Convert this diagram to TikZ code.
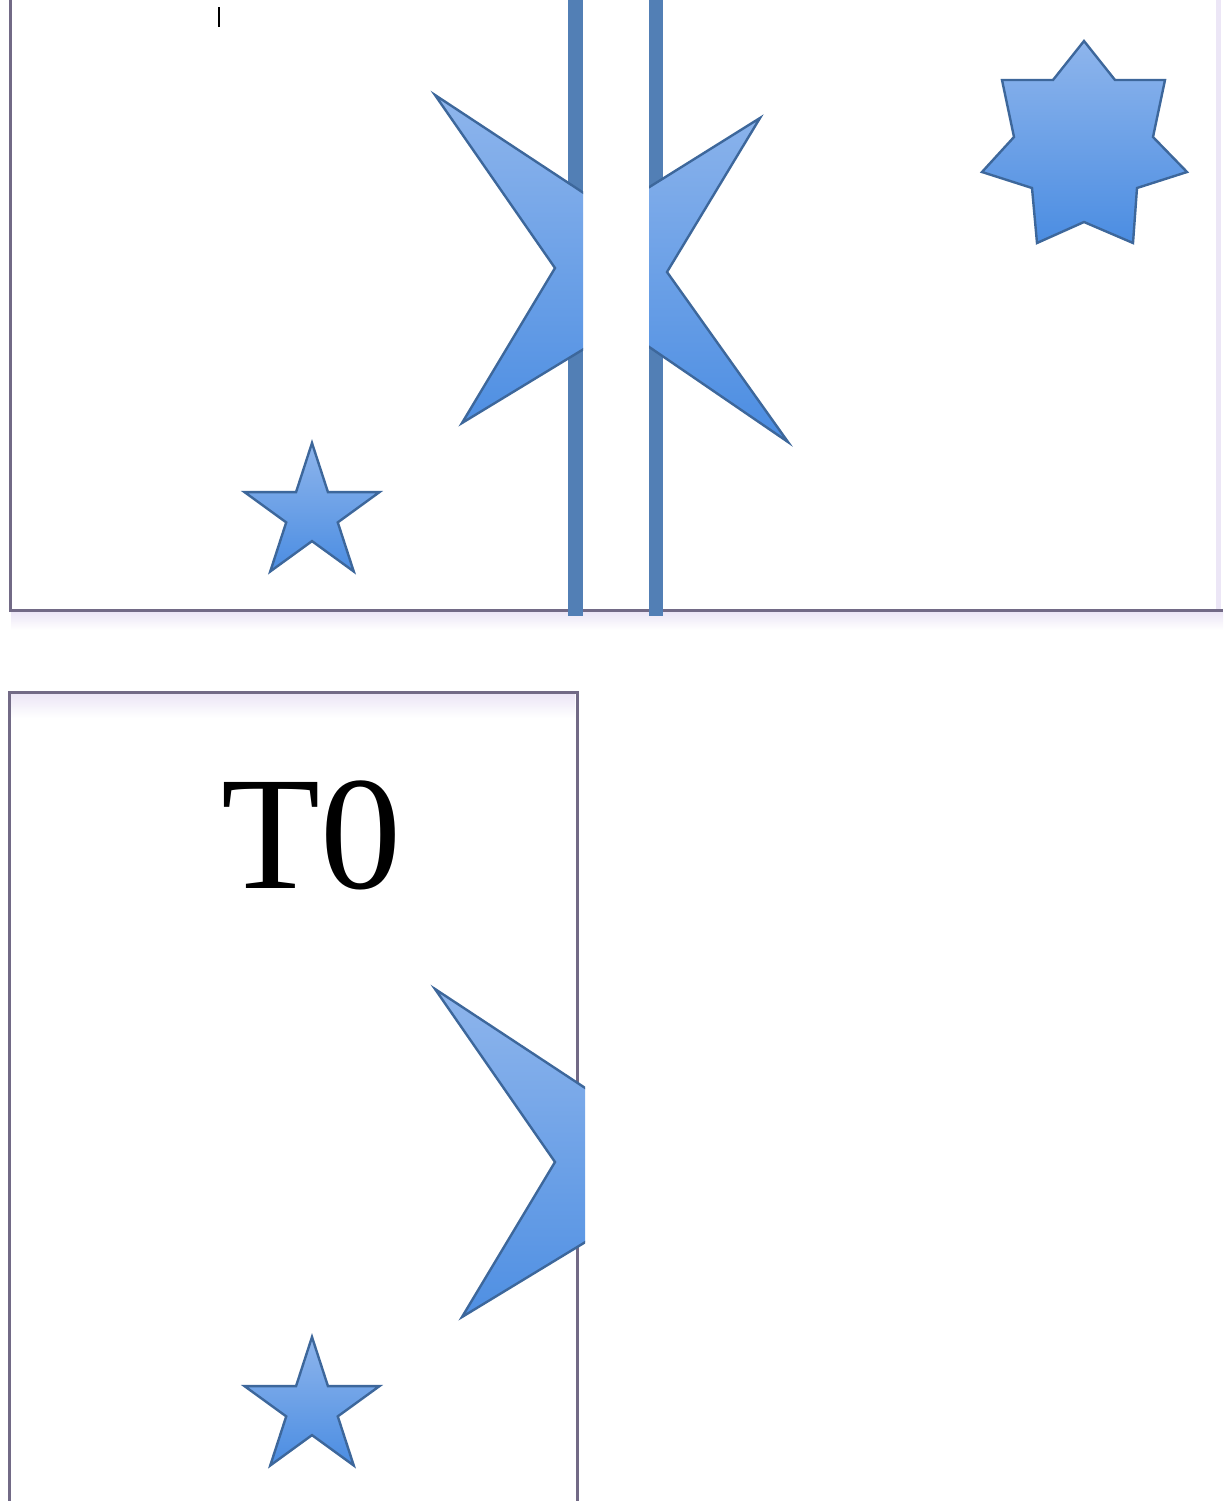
\documentclass[tikz,border=0pt]{standalone}
\usepackage{fontspec}
\setmainfont{Liberation Serif}
\definecolor{framec}{HTML}{726A86}
\definecolor{lav}{HTML}{ECE6F6}
\definecolor{barc}{HTML}{527FB5}
\definecolor{starline}{HTML}{3D679B}
\definecolor{startop}{HTML}{8EB5EC}
\definecolor{starbot}{HTML}{4B8DE2}
\tikzset{
  frameline/.style={draw=framec, line width=1.5pt},
  starshape/.style={draw=starline, line width=1.2pt, line join=miter, top color=startop, bottom color=starbot},
  barshape/.style={fill=barc},
}
\begin{document}
\begin{tikzpicture}[x=0.5pt,y=-0.5pt]
\useasboundingbox (0,0) rectangle (1223,1501);
\fill[white] (0,0) rectangle (1223,1501);
% soft lavender bands
\shade[top color=lav, bottom color=white] (11,612) rectangle (1223,630);
\shade[top color=lav, bottom color=white] (11,694) rectangle (575,718);
\fill[lav] (1216,0) rectangle (1221,610);
% frames
\draw[frameline] (10,0) -- (10,610) -- (1223,610);
\draw[frameline] (9,1501) -- (9,692) -- (577,692) -- (577,1501);
% bars
\fill[barshape] (568,0) rectangle (583,616);
\fill[barshape] (649,0) rectangle (663,616);
% cursor tick
\draw[black, line width=1pt] (219,7) -- (219,27);
% big four-point star (top), split
\begin{scope}
  \clip (0,0) rectangle (583,640);
  \path[starshape] (435,95) -- (611,211) -- (760,118) -- (667,272) -- (788,442) -- (620,327) -- (462,423) -- (555,268) -- cycle;
\end{scope}
\begin{scope}
  \clip (649,0) rectangle (1223,640);
  \path[starshape] (435,95) -- (611,211) -- (760,118) -- (667,272) -- (788,442) -- (620,327) -- (462,423) -- (555,268) -- cycle;
\end{scope}
% big four-point star (bottom), clipped
\begin{scope}
  \clip (0,650) rectangle (585,1501);
  \begin{scope}[yshift=-447pt]
  \path[starshape] (435,95) -- (611,211) -- (760,118) -- (667,272) -- (788,442) -- (620,327) -- (462,423) -- (555,268) -- cycle;
  \end{scope}
\end{scope}
% small five-point stars
\begin{scope}[shift={(312,514)}]
  \path[starshape] (0,-71)
    \foreach \i in {1,...,9} { -- ({(mod(\i,2)==0 ? 71 : 27.1)*sin(36*\i)}, {-(mod(\i,2)==0 ? 71 : 27.1)*cos(36*\i)}) } -- cycle;
\end{scope}
\begin{scope}[shift={(312,1408)}]
  \path[starshape] (0,-71)
    \foreach \i in {1,...,9} { -- ({(mod(\i,2)==0 ? 71 : 27.1)*sin(36*\i)}, {-(mod(\i,2)==0 ? 71 : 27.1)*cos(36*\i)}) } -- cycle;
\end{scope}
% seven-point star
\path[starshape] (1084,41) -- (1115,80) -- (1165,80) -- (1153,137) -- (1187,172) -- (1137,188) -- (1133,243) -- (1084,222) -- (1037,243) -- (1032,188) -- (982,172) -- (1014,137) -- (1002,80) -- (1053,80) -- cycle;
% text
\node[font=\fontsize{81}{96}\selectfont, anchor=base, inner sep=0pt] (t0) at (311,888) {T0};
\end{tikzpicture}
\end{document}
